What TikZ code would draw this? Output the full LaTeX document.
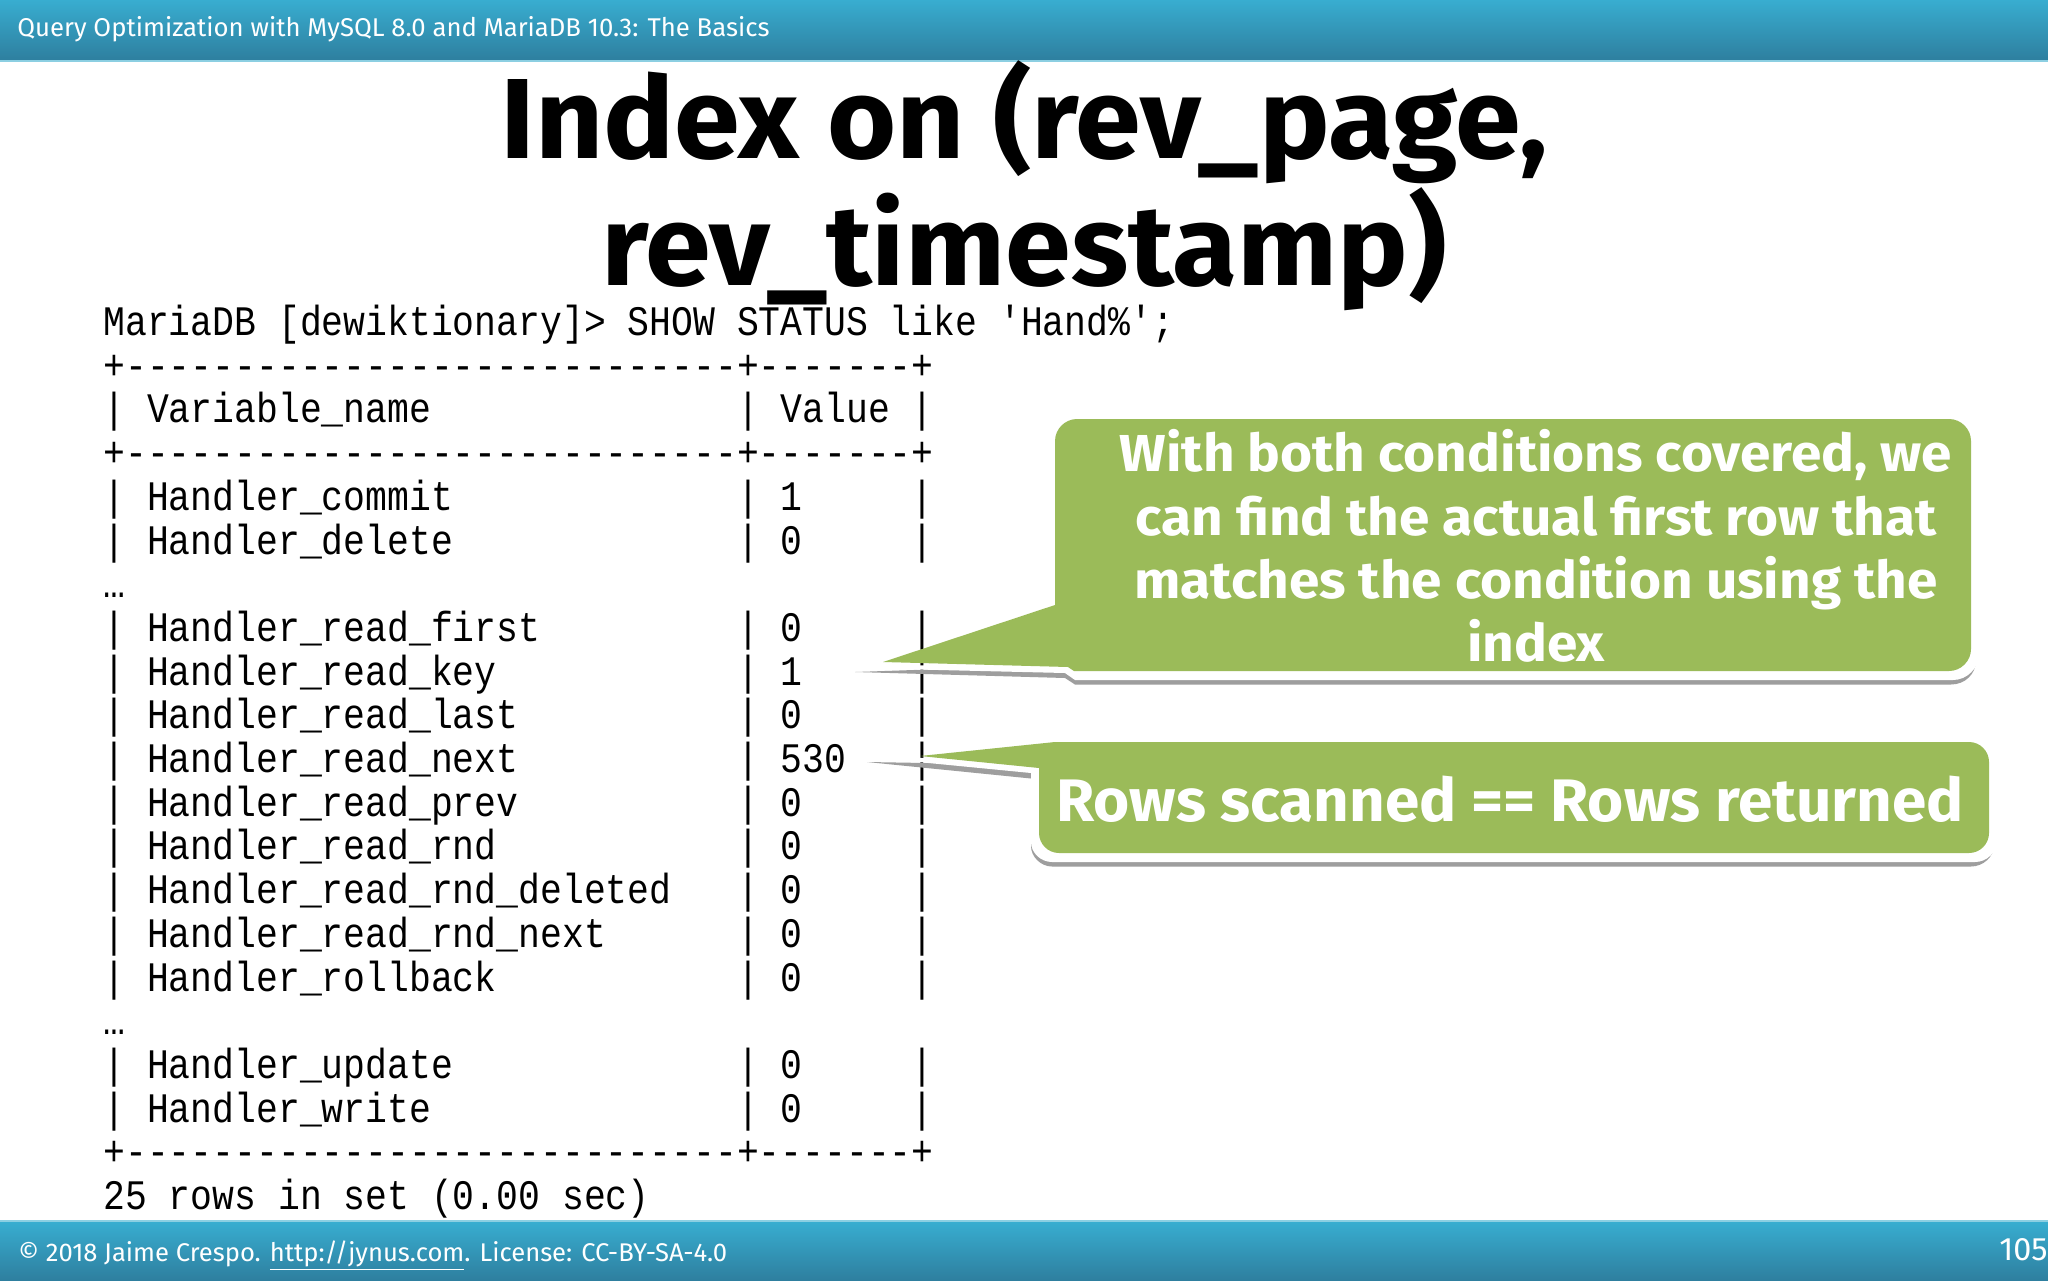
\documentclass[tikz,border=0pt]{standalone}
\usepackage{fontspec}
\setmainfont{Fira Sans}
\setmonofont[FakeStretch=0.867]{Liberation Mono}
\newfontfamily\titlefont[FakeStretch=1.04]{Fira Sans}
\newfontfamily\bubbleonefont[FakeStretch=1.056]{Fira Sans}
\newfontfamily\bubbletwofont[FakeStretch=1.033]{Fira Sans}
\newfontfamily\barfont[FakeStretch=1.0]{Fira Sans}
\definecolor{bartop}{HTML}{38ADD0}
\definecolor{barbot}{HTML}{2E7F9F}
\definecolor{barline}{HTML}{8CCFE2}
\definecolor{bubgreen}{HTML}{9BBB59}
\definecolor{bubshadow}{HTML}{9E9E9E}
\tikzset{
  barbox/.style={shade,top color=bartop,bottom color=barbot,draw=none},
  bartext/.style={text=white,anchor=base west,inner sep=0,font=\barfont\fontsize{12.85}{15}\selectfont},
  titletext/.style={text=black,inner sep=0,align=center,font=\titlefont\bfseries\fontsize{57}{63.5}\selectfont},
  console/.style={text=black,inner sep=0,anchor=base west,font=\ttfamily\fontsize{21}{21}\selectfont},
  bubbletext/.style={text=white,inner sep=0,align=center},
}
\newcommand{\conline}[3]{\node[console] (#1) at (103,{335.5+43.7*#2}) {#3};}
\begin{document}
\begin{tikzpicture}[x=0.5pt,y=-0.5pt]
\useasboundingbox (0,0) rectangle (2048,1280);
\fill[white] (0,0) rectangle (2048,1280);
% bars
\path[barbox] (0,0) rectangle (2048,60);
\fill[barline] (0,60) rectangle (2048,62);
\path[barbox] (0,1222) rectangle (2048,1280);
\fill[barline] (0,1220) rectangle (2048,1222);
\node[bartext] (head) at (17,36) {Query Optimization with MySQL 8.0 and MariaDB 10.3: The Basics};
\node[bartext,font=\barfont\fontsize{12.8}{15}\selectfont] (foot) at (18,1261) {© 2018 Jaime Crespo. \underline{http://jynus.com}. License: CC-BY-SA-4.0};
\node[bartext,anchor=base east,font=\barfont\fontsize{16.2}{18}\selectfont] (pageno) at (2048,1260) {105};
% console
\conline{l0}{0}{MariaDB~[dewiktionary]>~SHOW~STATUS~like~'Hand\%';}
\conline{l1}{1}{+----------------------------+-------+}
\conline{l2}{2}{|~Variable\_name~~~~~~~~~~~~~~|~Value~|}
\conline{l3}{3}{+----------------------------+-------+}
\conline{l4}{4}{|~Handler\_commit~~~~~~~~~~~~~|~1~~~~~|}
\conline{l5}{5}{|~Handler\_delete~~~~~~~~~~~~~|~0~~~~~|}
\conline{l6}{6}{…}
\conline{l7}{7}{|~Handler\_read\_first~~~~~~~~~|~0~~~~~|}
\conline{l8}{8}{|~Handler\_read\_key~~~~~~~~~~~|~1~~~~~|}
\conline{l9}{9}{|~Handler\_read\_last~~~~~~~~~~|~0~~~~~|}
\conline{l10}{10}{|~Handler\_read\_next~~~~~~~~~~|~530~~~|}
\conline{l11}{11}{|~Handler\_read\_prev~~~~~~~~~~|~0~~~~~|}
\conline{l12}{12}{|~Handler\_read\_rnd~~~~~~~~~~~|~0~~~~~|}
\conline{l13}{13}{|~Handler\_read\_rnd\_deleted~~~|~0~~~~~|}
\conline{l14}{14}{|~Handler\_read\_rnd\_next~~~~~~|~0~~~~~|}
\conline{l15}{15}{|~Handler\_rollback~~~~~~~~~~~|~0~~~~~|}
\conline{l16}{16}{…}
\conline{l17}{17}{|~Handler\_update~~~~~~~~~~~~~|~0~~~~~|}
\conline{l18}{18}{|~Handler\_write~~~~~~~~~~~~~~|~0~~~~~|}
\conline{l19}{19}{+----------------------------+-------+}
\conline{l20}{20}{25~rows~in~set~(0.00~sec)}
% title
\node[titletext] (title) at (1024,186) {Index on (rev\_page,\\rev\_timestamp)};
% bubble one
\fill[bubshadow] (855,672) -- (1065,678) -- (1075,684.5) -- (1951,684.5) .. controls (1965,684.5) and (1976,674) .. (1976,660) -- (1900,640) -- (1060,665) -- cycle;
\fill[white] (855,668) -- (1065,673) -- (1075,680) -- (1953,680) .. controls (1967,680) and (1979,668) .. (1979,654) -- (1979,633) -- (1900,633) -- (1060,660) -- cycle;
\fill[bubgreen] (883,662) -- (1055,605) -- (1055,441) .. controls (1055,429) and (1065,419) .. (1077,419) -- (1949,419) .. controls (1961,419) and (1971,429) .. (1971,441) -- (1971,649) .. controls (1971,661) and (1961,671) .. (1949,671) -- (1074,671) -- (1068,667) -- cycle;
\node[bubbletext,font=\bubbleonefont\bfseries\fontsize{26}{31.65}\selectfont] (msgone) at (1536,546) {With both conditions covered, we\\can find the actual first row that\\matches the condition using the\\index};
% bubble two
\fill[bubshadow] (867,762) -- (1031,778.5) -- (1031,846) .. controls (1031,857) and (1041,866.5) .. (1052,866.5) -- (1971,866.5) .. controls (1983,866.5) and (1994,857) .. (1994,845) -- (1900,800) -- (1045,765) -- cycle;
\fill[white] (867,757) -- (1031,773) -- (1031,842) .. controls (1031,853) and (1041,862) .. (1052,862) -- (1975,862) .. controls (1987,862) and (1997,852) .. (1997,840) -- (1997,790) -- (1900,790) -- (1045,760) -- cycle;
\fill[bubgreen] (920,756) -- (1055,742) -- (1969,742) .. controls (1980,742) and (1989,751) .. (1989,762) -- (1989,833) .. controls (1989,844) and (1980,853) .. (1969,853) -- (1059,853) .. controls (1048,853) and (1039,844) .. (1039,833) -- (1039,768) -- cycle;
\node[bubbletext,font=\bubbletwofont\bfseries\fontsize{30}{36}\selectfont,anchor=base] (msgtwo) at (1510,821) {Rows scanned == Rows returned};
\end{tikzpicture}
\end{document}
